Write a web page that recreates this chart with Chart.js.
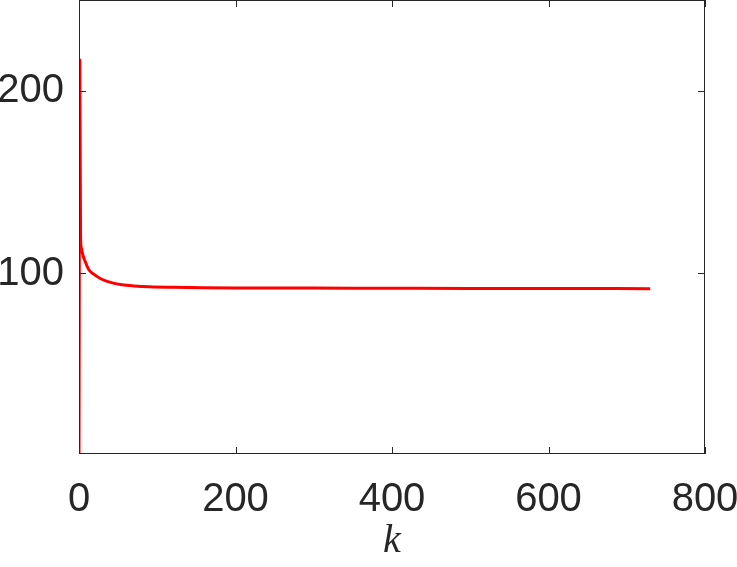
<!DOCTYPE html>
<html>
<head>
<meta charset="utf-8">
<script src="https://cdn.jsdelivr.net/npm/chart.js@4"></script>
<style>
  html, body { margin: 0; padding: 0; background: #fff; }
  #wrap { width: 737px; height: 567px; }
</style>
</head>
<body>
<div id="wrap"><canvas id="myChart" width="737" height="567"></canvas></div>
<script>
// iteration index and value
const kValues = [0, 1, 2, 3, 5, 8, 12, 16, 20, 26, 35, 45, 55, 70, 90, 120, 160, 200, 300, 400, 500, 600, 730];
const costValues = [1, 217, 120, 114, 110, 106.5, 102.5, 100.5, 99.3, 97.5, 95.8, 94.6, 93.8, 93.2, 92.7, 92.4, 92.2, 92.1, 92.0, 91.9, 91.8, 91.8, 91.7];
const xTicks = [0, 200, 400, 600, 800];
const yTicks = [100, 200];

const points = kValues.map((k, i) => ({ x: k, y: costValues[i] }));

// box + inward ticks, matlab style
const boxPlugin = {
    id: 'box',
    afterDraw(chart) {
        const { ctx, chartArea: a, scales } = chart;
        ctx.save();
        ctx.strokeStyle = '#262626';
        ctx.lineWidth = 1;
        ctx.strokeRect(a.left + 0.5, a.top + 0.5, a.right - a.left - 1, a.bottom - a.top - 1);
        ctx.beginPath();
        xTicks.forEach(v => {
            const px = Math.round(scales.x.getPixelForValue(v)) + 0.5;
            ctx.moveTo(px, a.bottom); ctx.lineTo(px, a.bottom - 7);
            ctx.moveTo(px, a.top); ctx.lineTo(px, a.top + 7);
        });
        yTicks.forEach(v => {
            const py = Math.round(scales.y.getPixelForValue(v)) + 0.5;
            ctx.moveTo(a.left, py); ctx.lineTo(a.left + 7, py);
            ctx.moveTo(a.right, py); ctx.lineTo(a.right - 7, py);
        });
        ctx.stroke();
        ctx.restore();
    }
};

const ctx = document.getElementById('myChart').getContext('2d');
const myChart = new Chart(ctx, {
    type: 'line',
    data: {
        datasets: [{
            data: points,
            borderColor: '#ff0000',
            borderWidth: 3,
            pointRadius: 0,
            tension: 0.3,
            cubicInterpolationMode: 'monotone',
            fill: false
        }]
    },
    options: {
        responsive: false,
        animation: false,
        layout: { padding: { top: 0, right: 32, left: 0, bottom: 0 } },
        plugins: { legend: { display: false }, tooltip: { enabled: false } },
        scales: {
            x: {
                type: 'linear',
                min: 0,
                max: 800,
                afterBuildTicks: s => { s.ticks = xTicks.map(v => ({ value: v })); },
                afterFit: s => { s.height = 113; s.paddingLeft = 0; s.paddingRight = 0; },
                grid: { display: false, drawTicks: false },
                border: { display: false },
                ticks: {
                    padding: 22,
                    color: '#262626',
                    font: { family: '"Liberation Sans", Arial, sans-serif', size: 40 },
                    maxRotation: 0
                },
                title: {
                    display: true,
                    text: 'k',
                    color: '#262626',
                    padding: { top: 0, bottom: 2 },
                    font: { family: '"Liberation Serif", "DejaVu Serif", serif', style: 'italic', size: 40 }
                }
            },
            y: {
                min: 1,
                max: 250,
                afterBuildTicks: s => { s.ticks = yTicks.map(v => ({ value: v })); },
                afterFit: s => { s.width = 79; s.paddingTop = 0; s.paddingBottom = 0; },
                grid: { display: false, drawTicks: false },
                border: { display: false },
                ticks: {
                    padding: 15,
                    color: '#262626',
                    font: { family: '"Liberation Sans", Arial, sans-serif', size: 40 }
                }
            }
        }
    },
    plugins: [boxPlugin]
});
</script>
</body>
</html>
